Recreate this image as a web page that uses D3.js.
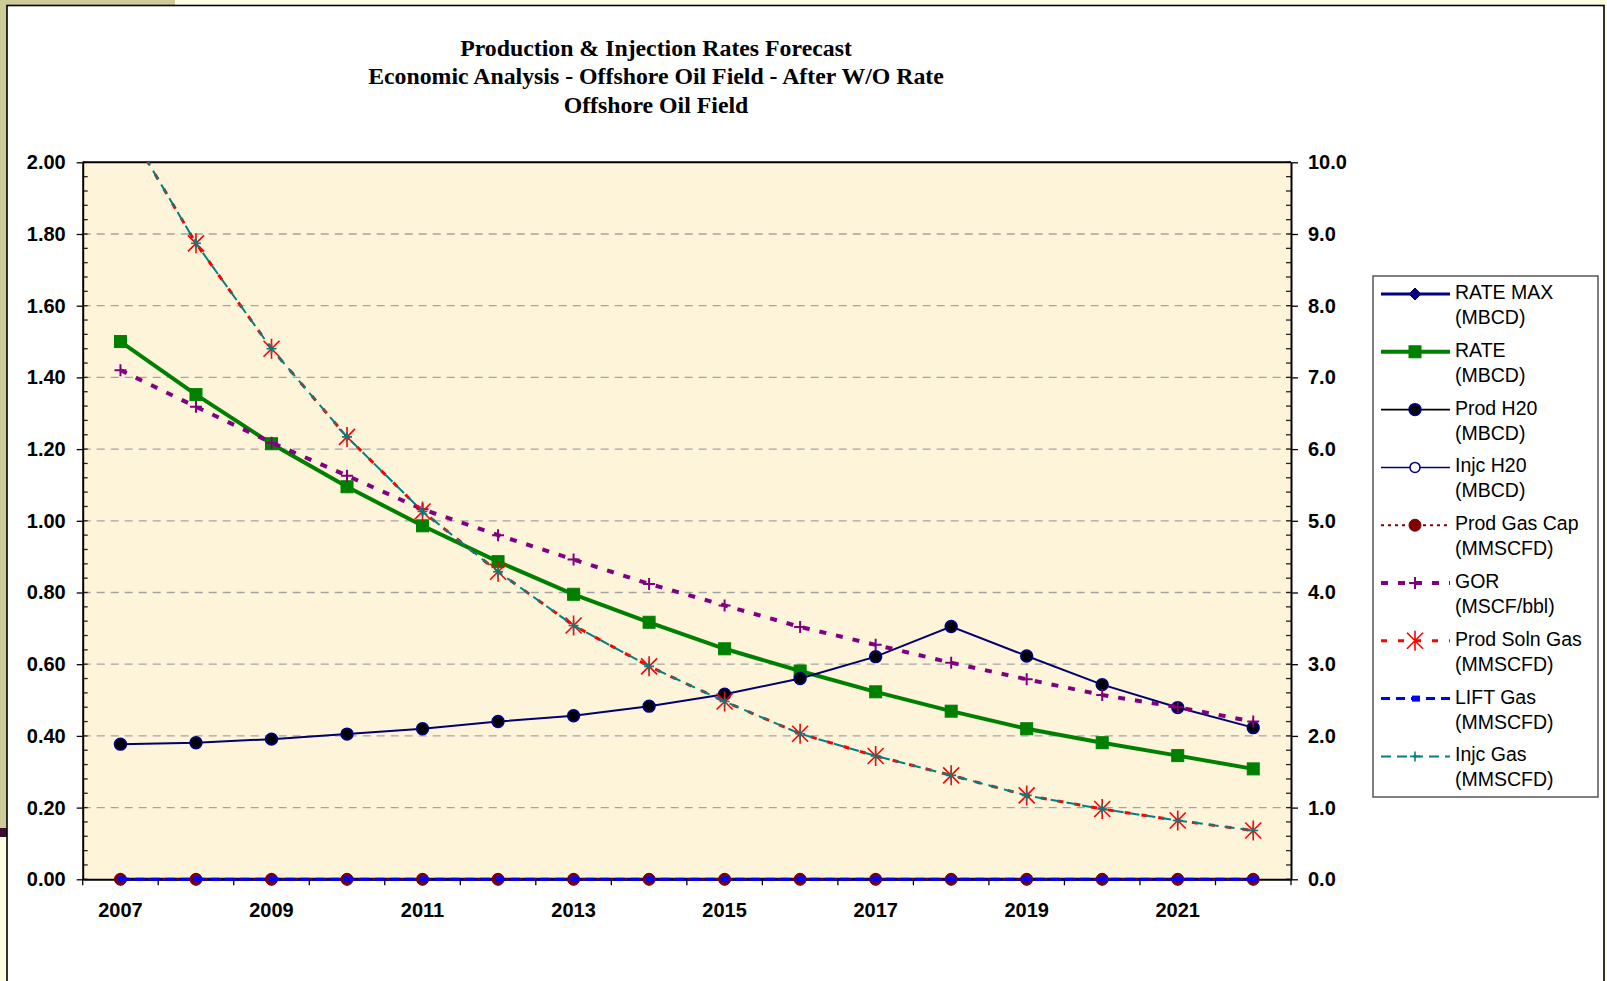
<!DOCTYPE html>
<html>
<head>
<meta charset="utf-8">
<script src="https://cdn.jsdelivr.net/npm/d3@7"></script>
<style>
  html, body { margin: 0; padding: 0; background: #FFFFE2; }
  svg { display: block; }
</style>
</head>
<body>
<svg id="chart" width="1607" height="981"></svg>
<script>
// ---------- DATA ----------
const years = [2007, 2008, 2009, 2010, 2011, 2012, 2013, 2014, 2015, 2016, 2017, 2018, 2019, 2020, 2021, 2022];
const yearLabels = ["2007", "2009", "2011", "2013", "2015", "2017", "2019", "2021"];
const leftTicks = [0, 0.2, 0.4, 0.6, 0.8, 1.0, 1.2, 1.4, 1.6, 1.8, 2.0];
const rightTicks = [0, 1, 2, 3, 4, 5, 6, 7, 8, 9, 10];
const titleLines = [
  "Production & Injection Rates Forecast",
  "Economic Analysis - Offshore Oil Field - After W/O Rate",
  "Offshore Oil Field"
];

// left axis series (MBCD)
const rateMax  = [0, 0, 0, 0, 0, 0, 0, 0, 0, 0, 0, 0, 0, 0, 0, 0];
const rate     = [1.50, 1.352, 1.215, 1.095, 0.986, 0.886, 0.795, 0.717, 0.643, 0.581, 0.523, 0.469, 0.420, 0.381, 0.345, 0.308];
const prodH2O  = [0.377, 0.381, 0.391, 0.405, 0.420, 0.440, 0.456, 0.483, 0.516, 0.560, 0.621, 0.705, 0.623, 0.543, 0.479, 0.423];
const injcH2O  = [0, 0, 0, 0, 0, 0, 0, 0, 0, 0, 0, 0, 0, 0, 0, 0];
// right axis series
const prodGasCap = [0, 0, 0, 0, 0, 0, 0, 0, 0, 0, 0, 0, 0, 0, 0, 0];
const gor        = [7.10, 6.59, 6.09, 5.63, 5.16, 4.80, 4.46, 4.12, 3.82, 3.52, 3.27, 3.02, 2.79, 2.57, 2.40, 2.20];
const prodSolnGas= [10.65, 8.87, 7.40, 6.17, 5.13, 4.29, 3.54, 2.97, 2.48, 2.03, 1.72, 1.45, 1.17, 0.98, 0.82, 0.68];
const liftGas    = [0, 0, 0, 0, 0, 0, 0, 0, 0, 0, 0, 0, 0, 0, 0, 0];
const injcGas    = [10.65, 8.87, 7.40, 6.17, 5.13, 4.29, 3.54, 2.97, 2.48, 2.03, 1.72, 1.45, 1.17, 0.98, 0.82, 0.68];

const seriesNames = [
  ["RATE MAX", "(MBCD)"], ["RATE", "(MBCD)"], ["Prod H20", "(MBCD)"], ["Injc H20", "(MBCD)"],
  ["Prod Gas Cap", "(MMSCFD)"], ["GOR", "(MSCF/bbl)"], ["Prod Soln Gas", "(MMSCFD)"],
  ["LIFT Gas", "(MMSCFD)"], ["Injc Gas", "(MMSCFD)"]
];

// ---------- LAYOUT ----------
const svg = d3.select("#chart");
const W = 1607, H = 981;
const P = { left: 82.7, right: 1291, top: 162.3, bottom: 879.3 };

// page decoration
svg.append("rect").attr("x", 0).attr("y", 0).attr("width", W).attr("height", H).attr("fill", "#FFFDE3");
svg.append("rect").attr("x", 0).attr("y", 0).attr("width", 175).attr("height", 6).attr("fill", "#CDCB98");
svg.append("rect").attr("x", 0).attr("y", 0).attr("width", 7).attr("height", 828).attr("fill", "#CDCB98");
svg.append("rect").attr("x", 0).attr("y", 828).attr("width", 7).attr("height", 9).attr("fill", "#3F0A30");
// chart frame
svg.append("rect").attr("x", 7).attr("y", 5.5).attr("width", 1597).attr("height", 990)
  .attr("fill", "#FFFFFF").attr("stroke", "#000").attr("stroke-width", 1.6);

// title
const title = svg.append("g").attr("font-family", "'Liberation Serif', 'Times New Roman', serif")
  .attr("font-weight", "bold").attr("font-size", 23.8).attr("text-anchor", "middle").attr("fill", "#000");
[56, 84, 113].forEach((yy, i) => title.append("text").attr("x", 656).attr("y", yy).text(titleLines[i]));

// scales
const x = d3.scaleBand().domain(years).range([P.left, P.right]).padding(0);
const cx = d => x(d) + x.bandwidth() / 2;
const yL = d3.scaleLinear().domain([0, 2]).range([P.bottom, P.top]);
const yR = d3.scaleLinear().domain([0, 10]).range([P.bottom, P.top]);

// plot background
svg.append("rect").attr("x", P.left).attr("y", P.top).attr("width", P.right - P.left).attr("height", P.bottom - P.top)
  .attr("fill", "#FDF4DA");

// gridlines
svg.append("g").selectAll("line").data(leftTicks.filter(t => t > 0 && t < 2)).join("line")
  .attr("x1", P.left).attr("x2", P.right).attr("y1", d => yL(d)).attr("y2", d => yL(d))
  .attr("stroke", "#A3A3A3").attr("stroke-width", 1.3).attr("stroke-dasharray", "8,6");

// minor ticks
const minorL = d3.range(0, 2.0001, 0.04);
svg.append("g").selectAll("line").data(minorL).join("line")
  .attr("x1", P.left).attr("x2", P.left + 5).attr("y1", d => yL(d)).attr("y2", d => yL(d))
  .attr("stroke", "#222").attr("stroke-width", 1.3);
const minorR = d3.range(0, 10.0001, 0.2);
svg.append("g").selectAll("line").data(minorR).join("line")
  .attr("x1", P.right - 5).attr("x2", P.right).attr("y1", d => yR(d)).attr("y2", d => yR(d))
  .attr("stroke", "#222").attr("stroke-width", 1.3);

// axes
const axisFont = g => g.selectAll("text").attr("font-family", "'Liberation Sans', Arial, sans-serif")
  .attr("font-weight", "bold").attr("font-size", 20).attr("fill", "#000");

const gL = svg.append("g").attr("transform", `translate(${P.left},0)`)
  .call(d3.axisLeft(yL).tickValues(leftTicks).tickFormat(d3.format(".2f")).tickSizeInner(6).tickSizeOuter(0).tickPadding(11));
gL.select(".domain").attr("stroke", "#000").attr("stroke-width", 2);
gL.selectAll(".tick line").attr("stroke", "#000").attr("stroke-width", 1.3);
axisFont(gL);

const gR = svg.append("g").attr("transform", `translate(${P.right},0)`)
  .call(d3.axisRight(yR).tickValues(rightTicks).tickFormat(d3.format(".1f")).tickSizeInner(7).tickSizeOuter(0).tickPadding(10));
gR.select(".domain").attr("stroke", "#000").attr("stroke-width", 2);
gR.selectAll(".tick line").attr("stroke", "#000").attr("stroke-width", 1.3);
axisFont(gR);

const gB = svg.append("g").attr("transform", `translate(0,${P.bottom})`)
  .call(d3.axisBottom(x).tickSize(0).tickPadding(24).tickFormat(d => yearLabels.includes(String(d)) ? String(d) : ""));
gB.select(".domain").attr("stroke", "#000").attr("stroke-width", 2);
axisFont(gB);
// category boundary ticks
const edges = years.map(d => x(d)).concat([P.right]);
svg.append("g").selectAll("line").data(edges).join("line")
  .attr("x1", d => d).attr("x2", d => d).attr("y1", P.bottom).attr("y2", P.bottom + 6)
  .attr("stroke", "#000").attr("stroke-width", 1.3);

// top border of plot
svg.append("line").attr("x1", P.left).attr("x2", P.right).attr("y1", P.top).attr("y2", P.top)
  .attr("stroke", "#000").attr("stroke-width", 2);

// clip for lines
svg.append("defs").append("clipPath").attr("id", "plotclip").append("rect")
  .attr("x", P.left - 10).attr("y", P.top).attr("width", P.right - P.left + 20).attr("height", P.bottom - P.top + 10);

// ---------- MARKERS ----------
function drawMarker(g, type, px, py) {
  switch (type) {
    case "diamond":
      g.append("path").attr("d", `M${px},${py - 6}L${px + 6},${py}L${px},${py + 6}L${px - 6},${py}Z`)
        .attr("fill", "#000080").attr("stroke", "#000080");
      break;
    case "square":
      g.append("rect").attr("x", px - 6).attr("y", py - 6).attr("width", 12).attr("height", 12)
        .attr("fill", "#008000").attr("stroke", "#008000");
      break;
    case "dot":
      g.append("circle").attr("cx", px).attr("cy", py).attr("r", 5.8)
        .attr("fill", "#000").attr("stroke", "#000080").attr("stroke-width", 1.8);
      break;
    case "ocircle":
      g.append("circle").attr("cx", px).attr("cy", py).attr("r", 5)
        .attr("fill", "#fff").attr("stroke", "#000080").attr("stroke-width", 1.5);
      break;
    case "redcircle":
      g.append("circle").attr("cx", px).attr("cy", py).attr("r", 6)
        .attr("fill", "#800000").attr("stroke", "#800000");
      break;
    case "plusP":
      g.append("path").attr("d", `M${px - 6},${py}H${px + 6}M${px},${py - 6}V${py + 6}`)
        .attr("stroke", "#800080").attr("stroke-width", 2).attr("fill", "none");
      break;
    case "star":
      g.append("path").attr("d",
        `M${px - 8},${py - 8}L${px + 8},${py + 8}M${px + 8},${py - 8}L${px - 8},${py + 8}M${px},${py - 10}V${py + 10}`)
        .attr("stroke", "#FF0000").attr("stroke-width", 1.6).attr("fill", "none");
      break;
    case "smallsq":
      g.append("rect").attr("x", px - 3).attr("y", py - 3).attr("width", 8).attr("height", 6)
        .attr("fill", "#0000FF");
      break;
    case "plusT":
      g.append("path").attr("d", `M${px - 5},${py}H${px + 5}M${px},${py - 5}V${py + 5}`)
        .attr("stroke", "#008080").attr("stroke-width", 1.6).attr("fill", "none");
      break;
  }
}

const series = [
  { vals: rateMax, y: yL, color: "#000080", w: 3, dash: null, marker: "diamond" },
  { vals: rate, y: yL, color: "#008000", w: 4, dash: null, marker: "square" },
  { vals: prodH2O, y: yL, color: "#000070", w: 2, dash: null, marker: "dot", legColor: "#000", legW: 1.6 },
  { vals: injcH2O, y: yL, color: "#000080", w: 1.5, dash: null, marker: "ocircle" },
  { vals: prodGasCap, y: yR, color: "#800000", w: 2, dash: "3,4", marker: "redcircle" },
  { vals: gor, y: yR, color: "#800080", w: 4, dash: "7,10", marker: "plusP" },
  { vals: prodSolnGas, y: yR, color: "#FF0000", w: 3, dash: "6,11", marker: "star" },
  { vals: liftGas, y: yR, color: "#0000FF", w: 3, dash: "9,6", marker: "smallsq" },
  { vals: injcGas, y: yR, color: "#008080", w: 2, dash: "10,6", marker: "plusT" }
];

const lineG = svg.append("g");
series.forEach(s => {
  const pts = years.map((yr, i) => [cx(yr), s.y(s.vals[i]), s.vals[i]]);
  lineG.append("path").attr("clip-path", "url(#plotclip)")
    .attr("d", d3.line()(pts.map(p => [p[0], p[1]])))
    .attr("fill", "none").attr("stroke", s.color).attr("stroke-width", s.w)
    .attr("stroke-dasharray", s.dash);
  const mg = lineG.append("g");
  pts.forEach(p => {
    if (p[2] <= s.y.domain()[1]) drawMarker(mg, s.marker, p[0], p[1]);
  });
});

// ---------- LEGEND ----------
const L = { x: 1373, y: 276, w: 225, h: 521 };
svg.append("rect").attr("x", L.x).attr("y", L.y).attr("width", L.w).attr("height", L.h)
  .attr("fill", "#fff").attr("stroke", "#555").attr("stroke-width", 1.5);
const leg = svg.append("g").attr("font-family", "'Liberation Sans', Arial, sans-serif").attr("font-size", 19.5).attr("fill", "#000");
series.forEach((s, i) => {
  const cy = 292 + i * 57.8;
  leg.append("line").attr("x1", 1381).attr("x2", 1450).attr("y1", cy + 2).attr("y2", cy + 2)
    .attr("stroke", s.legColor || s.color).attr("stroke-width", s.legW || s.w).attr("stroke-dasharray", s.dash);
  drawMarker(leg, s.marker, 1415, cy + 2);
  leg.append("text").attr("x", 1455).attr("y", cy + 7).text(seriesNames[i][0]);
  leg.append("text").attr("x", 1455).attr("y", cy + 32).text(seriesNames[i][1]);
});
</script>
</body>
</html>
